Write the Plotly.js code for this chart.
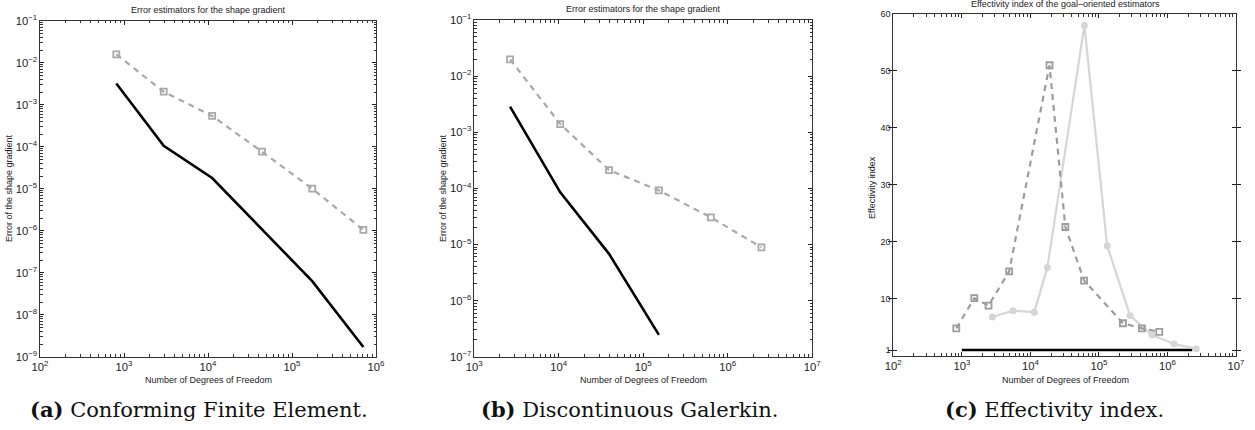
<!DOCTYPE html>
<html><head><meta charset="utf-8">
<script src="https://cdn.plot.ly/plotly-3.0.1.min.js"></script>
<style>html,body{margin:0;padding:0;background:#fff}#chart{width:1255px;height:430px}</style>
</head><body><div id="chart"></div>
<script>
// Panel (a): Conforming Finite Element
const dofA = [810, 2970, 11200, 44000, 174000, 707000];
const estA = [0.0158, 0.00204, 0.00054, 7.6e-5, 1.0e-5, 1.05e-6];
const errA = [3.2e-3, 1.05e-4, 1.8e-5, 1.05e-6, 6.3e-8, 1.7e-9];
// Panel (b): Discontinuous Galerkin
const dofB = [2650, 10400, 39300, 153000, 630000, 2500000];
const estB = [0.0199, 0.0014, 2.12e-4, 9.2e-5, 3.04e-5, 8.9e-6];
const dofBerr = [2650, 10400, 39300, 153000];
const errB = [2.85e-3, 8.5e-5, 6.8e-6, 2.45e-7];
// Panel (c): Effectivity index
const dofC1 = [830, 1520, 2450, 4900, 19000, 32400, 60800, 224000, 423000, 760000];
const effC1 = [4.8, 10.1, 8.8, 14.8, 51.0, 22.6, 13.2, 5.7, 4.8, 4.2];
const dofC2 = [2790, 5580, 11400, 17700, 61400, 132000, 285000, 592000, 1250000, 2630000];
const effC2 = [6.8, 7.9, 7.65, 15.5, 58.0, 19.3, 7.05, 3.65, 2.06, 1.23];
const dofRef = [1000, 2300000];
const effRef = [1, 1];

const titles = ["Error estimators for the shape gradient", "Error estimators for the shape gradient", "Effectivity index of the goal\u2013oriented estimators"];
const xTitle = "Number of Degrees of Freedom";
const yTitles = ["Error of the shape gradient", "Error of the shape gradient", "Effectivity index"];
const captions = ["<b>(a)</b> Conforming Finite Element.", "<b>(b)</b> Discontinuous Galerkin.", "<b>(c)</b> Effectivity index."];
const cTicks = [1, 10, 20, 30, 40, 50, 60];

const W = 1255, H = 430;
const px = v => v / W, py = v => 1 - v / H;
const dashGray = '#a9a9a9', dashGray2 = '#9c9c9c', lightGray = '#d6d6d6';

const sq = (c) => ({symbol: 'square-open', size: 6, color: c, line: {width: 1.8, color: c}});
const traces = [
  {x: dofA, y: errA, xaxis: 'x', yaxis: 'y', mode: 'lines', line: {color: '#000', width: 2.6}},
  {x: dofA, y: estA, xaxis: 'x', yaxis: 'y', mode: 'lines+markers', line: {color: dashGray, width: 2.2, dash: '6px,5px'}, marker: sq(dashGray)},
  {x: dofBerr, y: errB, xaxis: 'x2', yaxis: 'y2', mode: 'lines', line: {color: '#000', width: 2.6}},
  {x: dofB, y: estB, xaxis: 'x2', yaxis: 'y2', mode: 'lines+markers', line: {color: dashGray, width: 2.2, dash: '6px,5px'}, marker: sq(dashGray)},
  {x: dofRef, y: effRef, xaxis: 'x3', yaxis: 'y3', mode: 'lines', line: {color: '#000', width: 2.6}},
  {x: dofC2, y: effC2, xaxis: 'x3', yaxis: 'y3', mode: 'lines+markers', line: {color: lightGray, width: 2.2}, marker: {symbol: 'circle', size: 7, color: lightGray}},
  {x: dofC1, y: effC1, xaxis: 'x3', yaxis: 'y3', mode: 'lines+markers', line: {color: dashGray2, width: 2.2, dash: '6px,5px'}, marker: sq(dashGray2)},
  // invisible traces so the minor-tick overlay axes get drawn
  {x: dofA, y: errA, xaxis: 'x4', yaxis: 'y4', mode: 'lines', line: {width: 0, color: 'rgba(0,0,0,0)'}, hoverinfo: 'skip'},
  {x: dofB, y: estB, xaxis: 'x5', yaxis: 'y5', mode: 'lines', line: {width: 0, color: 'rgba(0,0,0,0)'}, hoverinfo: 'skip'},
  {x: dofRef, y: effRef, xaxis: 'x6', yaxis: 'y3', mode: 'lines', line: {width: 0, color: 'rgba(0,0,0,0)'}, hoverinfo: 'skip'}
];

function minorVals(lo, hi) {
  const v = [];
  for (let e = lo; e < hi; e++) for (let m = 2; m <= 9; m++) v.push(m * Math.pow(10, e));
  return v;
}
const tickFont = {family: 'Liberation Sans, Arial, sans-serif', size: 9, color: '#222'};
function logAxis(x0, x1, range, isX) {
  return {
    type: 'log', range: range, domain: isX ? [px(x0), px(x1)] : [py(x1), py(x0)],
    dtick: 1, exponentformat: 'power', tickfont: tickFont,
    ticks: 'inside', ticklen: 4, tickcolor: '#222', tickwidth: 1,
    showline: true, linecolor: '#333', linewidth: 1, mirror: 'allticks',
    showgrid: false, zeroline: false, fixedrange: true
  };
}
function minorAxis(base, range, anchor) {
  return {
    type: 'log', range: range, overlaying: base, anchor: anchor,
    tickmode: 'array', tickvals: minorVals(range[0], range[1]), showticklabels: false,
    ticks: 'inside', ticklen: 2.5, tickcolor: '#333', tickwidth: 1,
    showline: false, mirror: 'allticks', showgrid: false, zeroline: false, fixedrange: true
  };
}
const layout = {
  width: W, height: H, margin: {l: 0, r: 0, t: 0, b: 0},
  paper_bgcolor: '#fff', plot_bgcolor: 'rgba(0,0,0,0)', showlegend: false,
  xaxis: Object.assign(logAxis(40, 376, [2, 6], true), {anchor: 'y'}),
  yaxis: Object.assign(logAxis(20.7, 356.7, [-9, -1], false), {anchor: 'x'}),
  xaxis2: Object.assign(logAxis(474.3, 812.3, [3, 7], true), {anchor: 'y2'}),
  yaxis2: Object.assign(logAxis(20, 356.7, [-7, -1], false), {anchor: 'x2'}),
  xaxis3: Object.assign(logAxis(893.3, 1236, [2, 7], true), {anchor: 'y3'}),
  yaxis3: {
    anchor: 'x3', domain: [py(355.7), py(14)], range: [0, 60], tickvals: cTicks,
    tickfont: tickFont, ticks: 'inside', ticklen: 4, tickcolor: '#222',
    showline: true, linecolor: '#333', linewidth: 1, mirror: 'allticks',
    showgrid: false, zeroline: false, fixedrange: true
  },
  xaxis4: minorAxis('x', [2, 6], 'y'),
  yaxis4: minorAxis('y', [-9, -1], 'x'),
  xaxis5: minorAxis('x2', [3, 7], 'y2'),
  yaxis5: minorAxis('y2', [-7, -1], 'x2'),
  xaxis6: minorAxis('x3', [2, 7], 'y3'),
  annotations: []
};
const tX = [208, 643.5, 1065.8], tY = [10, 9, 4];
const yTx = [9, 443, 872], yTy = [188, 188, 188];
const capX = [199, 629.5, 1054.7];
for (let i = 0; i < 3; i++) {
  layout.annotations.push({xref: 'paper', yref: 'paper', x: px(tX[i]), y: py(tY[i]), text: titles[i], showarrow: false, xanchor: 'center', yanchor: 'middle', font: {family: 'Liberation Sans, Arial, sans-serif', size: 9, color: '#222'}});
  layout.annotations.push({xref: 'paper', yref: 'paper', x: px(tX[i]), y: py(380), text: xTitle, showarrow: false, xanchor: 'center', yanchor: 'middle', font: {family: 'Liberation Sans, Arial, sans-serif', size: 9, color: '#222'}});
  layout.annotations.push({xref: 'paper', yref: 'paper', x: px(yTx[i]), y: py(yTy[i]), text: yTitles[i], textangle: -90, showarrow: false, xanchor: 'center', yanchor: 'middle', font: {family: 'Liberation Sans, Arial, sans-serif', size: 9, color: '#222'}});
  layout.annotations.push({xref: 'paper', yref: 'paper', x: px(capX[i]), y: py(409), text: captions[i], showarrow: false, xanchor: 'center', yanchor: 'middle', font: {family: 'DejaVu Serif, Liberation Serif, serif', size: 21, color: '#111'}});
}
Plotly.newPlot('chart', traces, layout, {staticPlot: true, displayModeBar: false});
</script></body></html>
